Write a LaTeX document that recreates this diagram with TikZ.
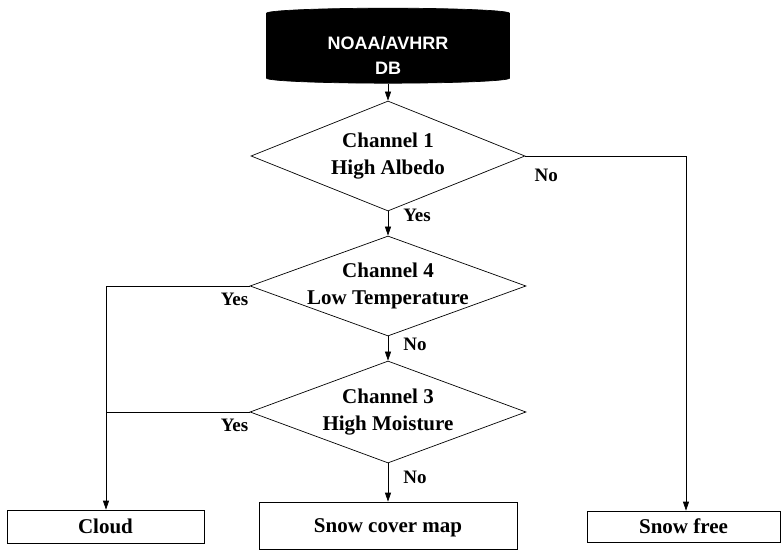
\documentclass[tikz,border=0pt]{standalone}
\usepackage{fontspec}
\setmainfont{Liberation Serif}
\newfontfamily\dbfont{Liberation Sans}
\usetikzlibrary{arrows.meta,positioning,shapes.geometric,calc}
\tikzset{
  test/.style={diamond, draw, aspect=2.7, inner sep=-8pt, align=center, font=\fontsize{21}{27}\selectfont\bfseries},
  outbox/.style={draw, rectangle, align=center, inner sep=0pt, text height=14pt, text depth=0pt, font=\fontsize{21}{24}\selectfont\bfseries},
  dbase/.style={cylinder, shape border rotate=90, aspect=0.08, draw, fill=black, font=\dbfont\fontsize{18}{25}\selectfont\bfseries},
  dbtext/.style={text=white, align=center, inner sep=0pt, font=\dbfont\fontsize{18}{25}\selectfont\bfseries},
  lbl/.style={inner sep=0pt, font=\fontsize{19}{22}\selectfont\bfseries},
  arrow/.style={-{Triangle[length=9pt,width=6pt]}}
}

\begin{document}
\begin{tikzpicture}[x=1pt, y=-1pt, line width=0.7pt]
    \useasboundingbox (0,0) rectangle (782,553);
    % Source and tests
    \node[dbase, minimum width=243pt, minimum height=75pt] (src) at (388,49) {\phantom{NOAA/AVHRR}};
    \node[dbtext] (srctext) at (388,55.5) {NOAA/AVHRR\\DB};
    \node[test, minimum width=274pt, minimum height=110pt] (ch1) at (388,156) {Channel 1\\High Albedo};
    \node[test, minimum width=276pt, minimum height=100pt] (ch4) at (388,286) {Channel 4\\Low Temperature};
    \node[test, minimum width=276pt, minimum height=102pt] (ch3) at (388,412) {Channel 3\\High Moisture};
    % Results
    \node[outbox, minimum width=197pt, minimum height=33pt] (cloud) at (105.5,526.5) {Cloud};
    \node[outbox, minimum width=258pt, minimum height=47pt] (map) at (388,525.5) {Snow cover map};
    \node[outbox, minimum width=193pt, minimum height=31pt] (free) at (683.5,526.5) {Snow free};
    \coordinate (turnR) at (686,156);
    \coordinate (turnL) at (106,286);
    % Connectors
    \draw[arrow] (src) -- (ch1);
    \draw[arrow] (ch1.south) node[lbl, anchor=north west, xshift=15pt, yshift=3pt] (yes1) {Yes} -- (ch4.north);
    \draw[arrow] (ch4.south) node[lbl, anchor=north west, xshift=15pt, yshift=-1pt] (no2) {No} -- (ch3.north);
    \draw[arrow] (ch3.south) node[lbl, anchor=north west, xshift=15pt, yshift=-7pt] (no3) {No} -- (map.north);
    \draw[arrow] (ch1.east) node[lbl, anchor=north west, xshift=9pt, yshift=-13pt] (no1) {No} -- (turnR) -- (turnR |- free.north);
    \draw[arrow] (ch4.west) node[lbl, anchor=north east, xshift=-1pt, yshift=-7pt] (yes2) {Yes} -- (turnL) -- (turnL |- cloud.north);
    \draw (ch3.west) node[lbl, anchor=north east, xshift=-1pt, yshift=-7pt] (yes3) {Yes} -- (ch3.west -| turnL);
  \end{tikzpicture}
\end{document}
